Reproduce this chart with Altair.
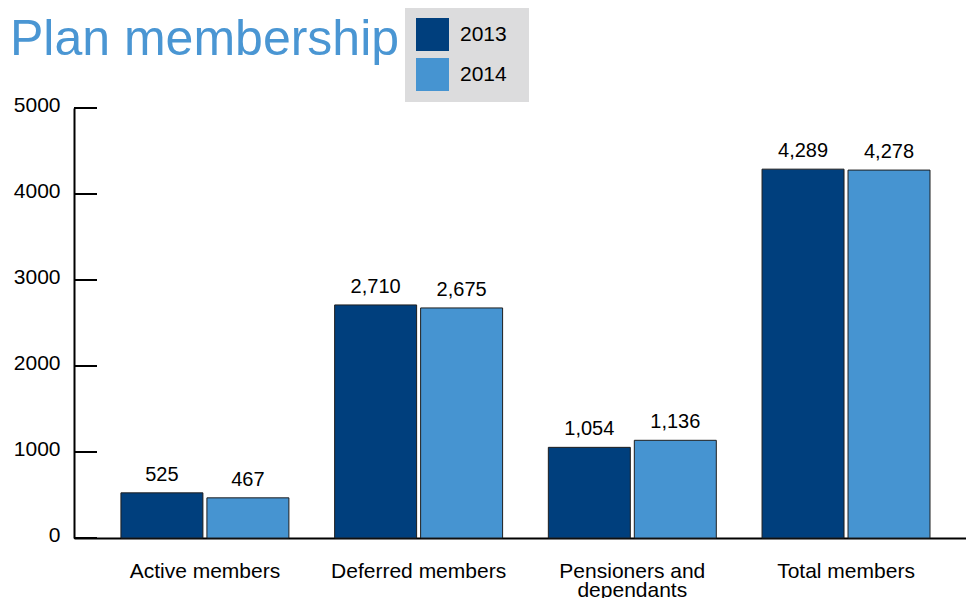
import altair as alt
import pandas as pd

categories = ["Active members", "Deferred members", "Pensioners and dependants", "Total members"]
years = ["2013", "2014"]
values_2013 = [525, 2710, 1054, 4289]
values_2014 = [467, 2675, 1136, 4278]
y_ticks = [0, 1000, 2000, 3000, 4000, 5000]

rows = []
for c, a, b in zip(categories, values_2013, values_2014):
    rows.append({"category": c, "year": "2013", "members": a})
    rows.append({"category": c, "year": "2014", "members": b})
df = pd.DataFrame(rows)
ticks_df = pd.DataFrame({"members": y_ticks})

FONT = "Liberation Sans"
colors = ["#003f7d", "#4694d1"]
LEGEND_BG = "#dcdcdd"

x_enc = alt.X(
    "category:N",
    sort=categories,
    scale=alt.Scale(paddingInner=0.214, paddingOuter=0.194, align=0.566),
    axis=alt.Axis(
        title=None, labelAngle=0, ticks=False, tickSize=0,
        domainColor="black", domainWidth=2,
        labelFontSize=21, labelFont=FONT, labelColor="black",
        labelPadding=22, labelLineHeight=19, labelLimit=400,
        labelExpr="datum.label == 'Pensioners and dependants' ? ['Pensioners and', 'dependants'] : datum.label",
    ),
)
xoff_enc = alt.XOffset("year:N", sort=years, scale=alt.Scale(paddingInner=0.0465, paddingOuter=0))
y_enc = alt.Y(
    "members:Q",
    scale=alt.Scale(domain=[0, 5000], nice=False),
    axis=alt.Axis(
        values=y_ticks, format="d", title=None, grid=False, ticks=False, tickSize=0,
        domainColor="black", domainWidth=2,
        labelFontSize=21, labelFont=FONT, labelColor="black",
        labelPadding=14, labelOffset=-3,
    ),
)
color_enc = alt.Color(
    "year:N",
    scale=alt.Scale(domain=years, range=colors),
    legend=alt.Legend(
        title=".", titleOrient="right", titleFontSize=6, titleColor=LEGEND_BG,
        titlePadding=9,
        orient="none", legendX=331, legendY=-101,
        fillColor=LEGEND_BG, padding=11,
        symbolType="square", symbolSize=1089, symbolStrokeWidth=0,
        rowPadding=7, labelFontSize=21, labelFont=FONT, labelColor="black",
        labelOffset=11,
    ),
)

bars = alt.Chart(df).mark_bar(stroke="#1e1e1e", strokeWidth=1).encode(
    x=x_enc, xOffset=xoff_enc, y=y_enc, color=color_enc
)
labels = alt.Chart(df).mark_text(
    dy=-12, baseline="alphabetic", fontSize=20, font=FONT, color="black"
).encode(
    x=x_enc, xOffset=xoff_enc, y=y_enc, text=alt.Text("members:Q", format=",")
)
tick_rules = alt.Chart(ticks_df).mark_rule(color="black", strokeWidth=2).encode(
    y=y_enc, x=alt.value(0), x2=alt.value(23)
)

chart = alt.layer(bars, labels, tick_rules).properties(
    width=892,
    height=430,
    autosize=alt.AutoSizeParams(type="none"),
    padding={"left": 66, "top": 100, "right": 0, "bottom": 60},
    title=alt.TitleParams(
        text="Plan membership", anchor="start", frame="group",
        font=FONT, fontSize=50, fontWeight="normal", color="#4a96d3",
        baseline="alphabetic", dx=-64, dy=138, offset=40,
    ),
).configure_view(stroke=None)

chart.save("out.html", embed_options={"renderer": "svg", "actions": False})
